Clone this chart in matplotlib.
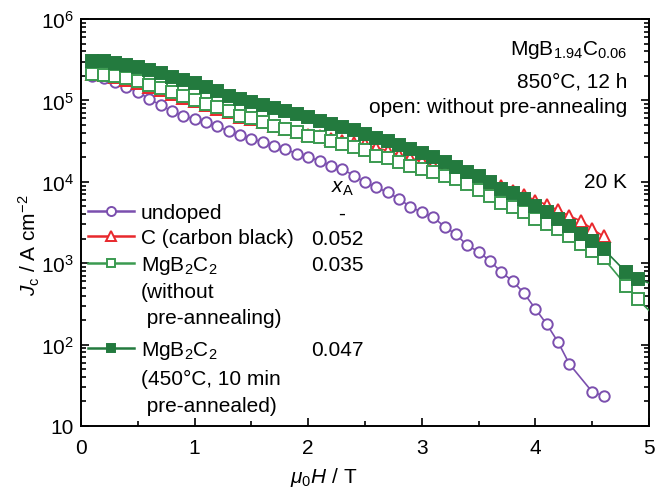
import matplotlib
matplotlib.use("Agg")
import matplotlib.pyplot as plt
from matplotlib.lines import Line2D
from matplotlib.ticker import LogLocator, FixedLocator, FixedFormatter, NullFormatter, MultipleLocator

plt.rcParams['font.family'] = ['Liberation Sans', 'DejaVu Sans']
plt.rcParams['mathtext.fontset'] = 'custom'
plt.rcParams['mathtext.rm'] = 'Liberation Sans'
plt.rcParams['mathtext.it'] = 'Liberation Sans:italic'
plt.rcParams['mathtext.bf'] = 'Liberation Sans:bold'

# ---------------- data (Jc in A/cm^2 vs mu0H in T) ----------------
H_undoped = [0.1, 0.2, 0.3, 0.4, 0.5, 0.6, 0.7, 0.8, 0.9, 1.0,
             1.1, 1.2, 1.3, 1.4, 1.5, 1.6, 1.7, 1.8, 1.9, 2.0,
             2.1, 2.2, 2.3, 2.4, 2.5, 2.6, 2.7, 2.8, 2.9, 3.0,
             3.1, 3.2, 3.3, 3.4, 3.5, 3.6, 3.7, 3.8, 3.9, 4.0,
             4.1, 4.2, 4.3, 4.5, 4.6]
Jc_undoped = [200000, 186000, 170000, 148000, 126000, 105000, 87100, 74100, 64600, 58900,
              55000, 47900, 42200, 37200, 33900, 30500, 27800, 25300, 22000, 20000,
              18200, 15800, 14400, 11900, 9860, 8550, 7430, 6150, 4940, 4220,
              3660, 2820, 2260, 1660, 1380, 1070, 776, 603, 427, 275,
              178, 107, 57.5, 26.3, 23.4]

H_carbon = [0.1, 0.2, 0.3, 0.4, 0.5, 0.6, 0.7, 0.8, 0.9, 1.0,
            1.1, 1.2, 1.3, 1.4, 1.5, 1.6, 1.7, 1.8, 1.9, 2.0,
            2.1, 2.2, 2.3, 2.4, 2.5, 2.6, 2.7, 2.8, 2.9, 3.0,
            3.1, 3.2, 3.3, 3.4, 3.5, 3.6, 3.7, 3.8, 3.9, 4.0,
            4.1, 4.2, 4.3, 4.4, 4.5, 4.6]
Jc_carbon = [209000, 204000, 195000, 178000, 162000, 148000, 135000, 120000, 107000, 97700,
             87100, 79400, 72400, 63100, 58900, 53700, 49000, 44700, 40700, 38000,
             36300, 33900, 31600, 30200, 28800, 26300, 24000, 21400, 19500, 17800,
             16200, 14500, 12900, 11700, 10700, 9770, 8910, 7760, 6920, 5890,
             5250, 4470, 3800, 3310, 2630, 2140]

H_mgb2c2 = [0.1, 0.2, 0.3, 0.4, 0.5, 0.6, 0.7, 0.8, 0.9, 1.0,
            1.1, 1.2, 1.3, 1.4, 1.5, 1.6, 1.7, 1.8, 1.9, 2.0,
            2.1, 2.2, 2.3, 2.4, 2.5, 2.6, 2.7, 2.8, 2.9, 3.0,
            3.1, 3.2, 3.3, 3.4, 3.5, 3.6, 3.7, 3.8, 3.9, 4.0,
            4.1, 4.2, 4.3, 4.4, 4.5, 4.6, 4.8, 4.9, 5.2]
Jc_mgb2c2_open = [211000, 207000, 201000, 187000, 172000, 156000, 142000, 126000, 112000, 102000,
                  90400, 82400, 74600, 64900, 60300, 54700, 48900, 44600, 40600, 36900,
                  35200, 32000, 29100, 26900, 24300, 20900, 19500, 17300, 15800, 14400,
                  13100, 11900, 10800, 9330, 7940, 6610, 5500, 4860, 4220, 3490,
                  3030, 2630, 2180, 1720, 1430, 1150, 530, 363, 138]
Jc_mgb2c2_pre = [308000, 302000, 288000, 272000, 255000, 236000, 217000, 195000, 178000, 162000,
                 147000, 129000, 114000, 104000, 94800, 87700, 80000, 73500, 68100, 61900,
                 56400, 51300, 46800, 43200, 38900, 34200, 31400, 28300, 25300, 22400,
                 20000, 17300, 15100, 13300, 11900, 10000, 8170, 7230, 6150, 5080,
                 4300, 3490, 2890, 2290, 1890, 1490, 773, 640, 457]

legend_labels_1 = ["undoped", "C (carbon black)", "MgB$_2$C$_2$", "(without", " pre-annealing)"]
legend_labels_2 = ["MgB$_2$C$_2$", "(450\u00b0C, 10 min", " pre-annealed)"]
xA_values = ["-", "0.052", "0.035", "0.047"]

col_purple = '#7b4fae'
col_red = '#e8282c'
col_green_open = '#3a9a50'
col_green_fill = '#237a3e'

fig = plt.figure(figsize=(6.57, 4.89), dpi=100)
ax = fig.add_axes([81/657, 1-427/489, (649-81)/657, (427-20)/489])

lw = 1.2
ax.plot(H_undoped, Jc_undoped, '-o', color=col_purple, mfc='white', mec=col_purple,
        ms=7.5, mew=1.4, lw=lw, zorder=2)
ax.plot(H_carbon, Jc_carbon, '-^', color=col_red, mfc='white', mec=col_red,
        ms=8, mew=1.4, lw=lw, zorder=3)
ax.plot(H_mgb2c2, Jc_mgb2c2_open, '-s', color=col_green_open, mfc='white', mec=col_green_open,
        ms=8.5, mew=1.4, lw=lw, zorder=4)
ax.plot(H_mgb2c2, Jc_mgb2c2_pre, '-s', color=col_green_fill, mfc=col_green_fill, mec=col_green_fill,
        ms=8.5, mew=1.4, lw=lw, zorder=5)

ax.set_yscale('log')
ax.set_xlim(0, 5)
ax.set_ylim(10, 1e6)

fs = 15
ax.xaxis.set_major_locator(MultipleLocator(1))
ax.xaxis.set_minor_locator(MultipleLocator(0.5))
ax.yaxis.set_major_locator(FixedLocator([10, 100, 1e3, 1e4, 1e5, 1e6]))
ax.yaxis.set_major_formatter(FixedFormatter(['10', '10$^2$', '10$^3$', '10$^4$', '10$^5$', '10$^6$']))
ax.yaxis.set_minor_locator(LogLocator(base=10, subs=range(2, 10)))
ax.yaxis.set_minor_formatter(NullFormatter())
ax.tick_params(which='both', direction='in', labelsize=fs, width=1.2)
ax.tick_params(which='major', length=6)
ax.tick_params(which='minor', length=3.5)
ax.tick_params(axis='y', which='both', right=True, pad=5)
ax.tick_params(axis='x', which='both', top=False)
ax.tick_params(axis='x', pad=9)
for sp in ax.spines.values():
    sp.set_linewidth(1.4)

ax.set_xlabel(r'$\mu_0H$ / T', fontsize=fs)
ax.set_ylabel(r'$J_\mathrm{c}$ / A cm$^{-2}$', fontsize=fs)
ax.xaxis.set_label_coords(0.428, -0.095)
ax.yaxis.set_label_coords(-0.068, 0.447)

# annotations
ax.text(0.962, 0.926, 'MgB$_{1.94}$C$_{0.06}$', transform=ax.transAxes, ha='right', va='center', fontsize=fs)
ax.text(0.962, 0.848, '850\u00b0C, 12 h', transform=ax.transAxes, ha='right', va='center', fontsize=fs)
ax.text(0.962, 0.786, 'open: without pre-annealing', transform=ax.transAxes, ha='right', va='center', fontsize=fs)
ax.text(0.962, 0.600, '20 K', transform=ax.transAxes, ha='right', va='center', fontsize=fs)

# legend proxies (style only)
llw = 1.8
h_und = Line2D([], [], color=col_purple, marker='o', mfc='white', mec=col_purple, ms=6.5, mew=1.4, lw=llw)
h_c = Line2D([], [], color=col_red, marker='^', mfc='white', mec=col_red, ms=6.5, mew=1.4, lw=llw)
h_open = Line2D([], [], color=col_green_open, marker='s', mfc='white', mec=col_green_open, ms=5.5, mew=1.4, lw=llw)
h_fill = Line2D([], [], color=col_green_fill, marker='s', mfc=col_green_fill, mec=col_green_fill, ms=5.5, mew=1.4, lw=llw)
blank = Line2D([], [], linestyle='none')
leg_kw = dict(loc='upper left', frameon=False, fontsize=fs, borderpad=0, borderaxespad=0,
              handlelength=2.2, handletextpad=0.35)
leg1 = ax.legend([h_und, h_c, h_open, blank, blank], legend_labels_1,
                 bbox_to_anchor=(0.012, 0.548), labelspacing=0.31, **leg_kw)
ax.add_artist(leg1)
leg2 = ax.legend([h_fill, blank, blank], legend_labels_2,
                 bbox_to_anchor=(0.012, 0.213), labelspacing=0.38, **leg_kw)

fig.canvas.draw()
renderer = fig.canvas.get_renderer()
inv = ax.transAxes.inverted()
t1 = leg1.get_texts()
t2 = leg2.get_texts()
row_texts = [t1[0], t1[1], t1[2], t2[0]]
x_num = 0.405
for val, t in zip(xA_values, row_texts):
    bb = t.get_window_extent(renderer)
    yc = inv.transform((0, bb.y1 - 10.5))[1]
    if val == '-':
        ax.text(0.459, yc, val, transform=ax.transAxes, ha='center', va='center', fontsize=fs)
    else:
        ax.text(x_num, yc, val, transform=ax.transAxes, ha='left', va='center', fontsize=fs)
ax.text(0.46, 0.587, '$x_\\mathrm{A}$', transform=ax.transAxes, ha='center', va='center', fontsize=fs)

fig.savefig('out.png', dpi=100)
